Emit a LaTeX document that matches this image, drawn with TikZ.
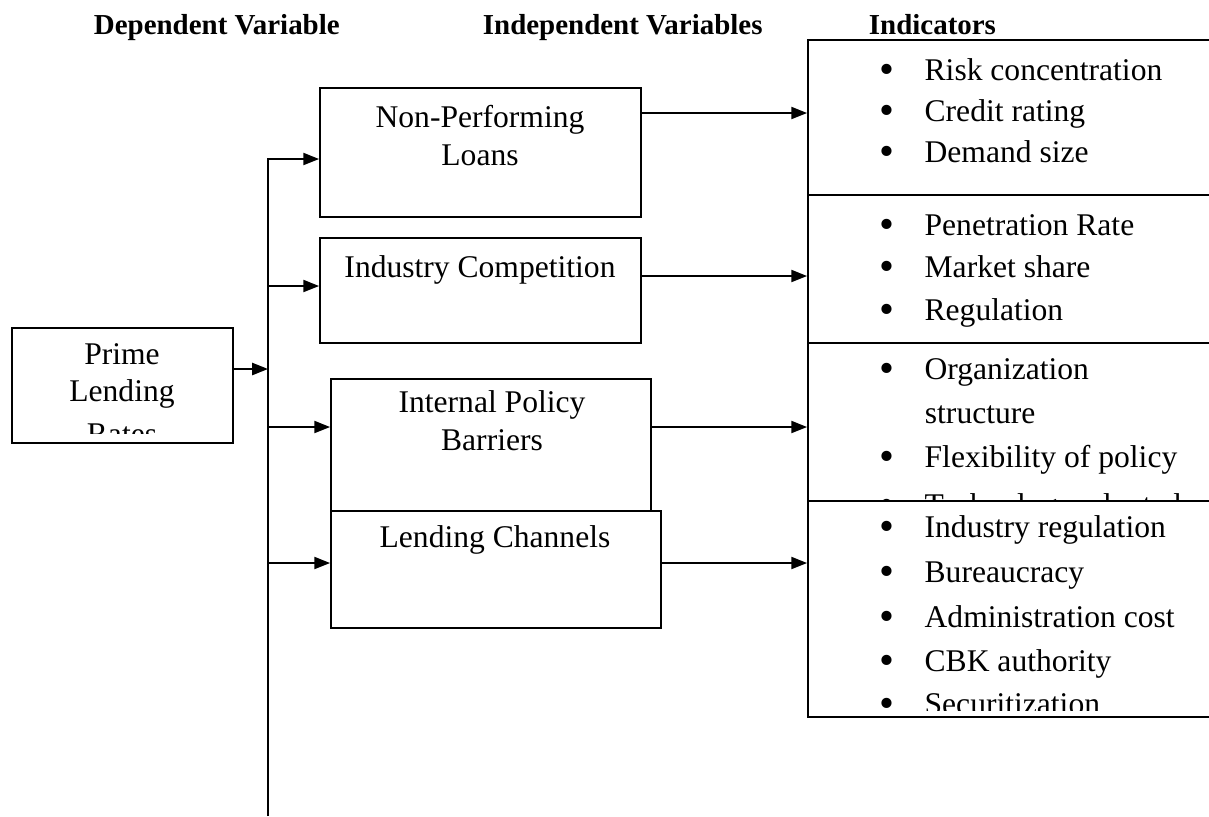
\documentclass[tikz,border=0pt]{standalone}
\usepackage{fontspec}
\setmainfont{Liberation Serif}
\usetikzlibrary{arrows.meta,fit,positioning}

\newcommand{\itm}[1]{\makebox[17pt][l]{\raisebox{-1pt}{\scalebox{1.35}{\textbullet}}}#1}

\begin{document}
\begin{tikzpicture}[x=0.38pt,y=-0.38pt,inner sep=0pt,line width=0.7pt,
  >={Triangle[length=6pt,width=4.6pt]},
  box/.style={draw,fill=white,fit={#1},inner sep=0pt},
  txt/.style={font=\fontsize{12}{14}\selectfont,text height=8pt,text depth=2pt},
  itemtxt/.style={txt,anchor=west},
  head/.style={font=\bfseries\fontsize{11}{13}\selectfont,anchor=west,
    text height=7.5pt,text depth=2pt}]

\useasboundingbox (0,0) rectangle (1209,816);
\clip (0,0) rectangle (1209,816);

% column heads
\node[head] (hdep) at (93,27) {Dependent Variable};
\node[head] (hindep) at (482,27) {Independent Variables};
\node[head] (hind) at (868,27) {Indicators};

% boxes
\node[box={(12,328) (233,443)}] (prime) {};
\node[box={(320,88) (641,217)}] (npl) {};
\node[box={(320,238) (641,343)}] (comp) {};
\node[box={(331,379) (651,511)}] (policy) {};
\node[box={(331,511) (661,628)}] (channel) {};
\node[box={(808,40) (1230,195)}] (ind1) {};
\node[box={(808,195) (1230,343)}] (ind2) {};
\node[box={(808,343) (1230,501)}] (ind3) {};
\node[box={(808,501) (1230,717)}] (ind4) {};

% box texts
\node[txt] (tprime) at (122,357) {Prime};
\node[txt] (tlend) at (122,394) {Lending};
\begin{scope}
\clip (12,328) rectangle (233,433);
\node[txt] (trates) at (122,437) {Rates};
\end{scope}

\node[txt] (tnpl) at (480,120) {Non-Performing};
\node[txt] (tloans) at (480,158) {Loans};
\node[txt] (tcomp) at (480,270) {Industry Competition};
\node[txt] (tint) at (492,405) {Internal Policy};
\node[txt] (tbar) at (492,443) {Barriers};
\node[txt] (tchan) at (495,540) {Lending Channels};

% indicators
\node[itemtxt] (a1) at (879,73) {\itm{Risk concentration}};
\node[itemtxt] (a2) at (879,114) {\itm{Credit rating}};
\node[itemtxt] (a3) at (879,155) {\itm{Demand size}};

\node[itemtxt] (b1) at (879,228) {\itm{Penetration Rate}};
\node[itemtxt] (b2) at (879,270) {\itm{Market share}};
\node[itemtxt] (b3) at (879,313) {\itm{Regulation}};

\node[itemtxt] (c1) at (879,372) {\itm{Organization}};
\node[itemtxt] (c1b) at (924,416) {structure};
\node[itemtxt] (c2) at (879,460) {\itm{Flexibility of policy}};
\begin{scope}
\clip (ind3.north west) rectangle (1230,501);
\node[itemtxt,text depth=0pt] (c3) at (879,505) {\itm{Technology adopted}};
\end{scope}

\node[itemtxt] (d1) at (879,530) {\itm{Industry regulation}};
\node[itemtxt] (d2) at (879,575) {\itm{Bureaucracy}};
\node[itemtxt] (d3) at (879,620) {\itm{Administration cost}};
\node[itemtxt] (d4) at (879,664) {\itm{CBK authority}};
\begin{scope}
\clip (ind4.north west) rectangle (1230,710);
\node[itemtxt] (d5) at (879,707) {\itm{Securitization}};
\end{scope}

% connectors
\coordinate (sptop) at (268,159);
\coordinate (spbot) at (268,816);
\coordinate (spin) at (268,369);
\coordinate (sp2) at (268,286);
\coordinate (sp3) at (268,427);
\coordinate (sp4) at (268,563);

\draw[->] (spbot) -- (sptop) -- (sptop -| npl.west);
\draw[->] (spin -| prime.east) -- (spin);
\draw[->] (sp2) -- (sp2 -| comp.west);
\draw[->] (sp3) -- (sp3 -| policy.west);
\draw[->] (sp4) -- (sp4 -| channel.west);

\draw[->] (npl.east |- 0,113) -- (ind1.west |- 0,113);
\draw[->] (comp.east |- 0,276) -- (ind2.west |- 0,276);
\draw[->] (policy.east |- 0,427) -- (ind3.west |- 0,427);
\draw[->] (channel.east |- 0,563) -- (ind4.west |- 0,563);

\end{tikzpicture}
\end{document}
